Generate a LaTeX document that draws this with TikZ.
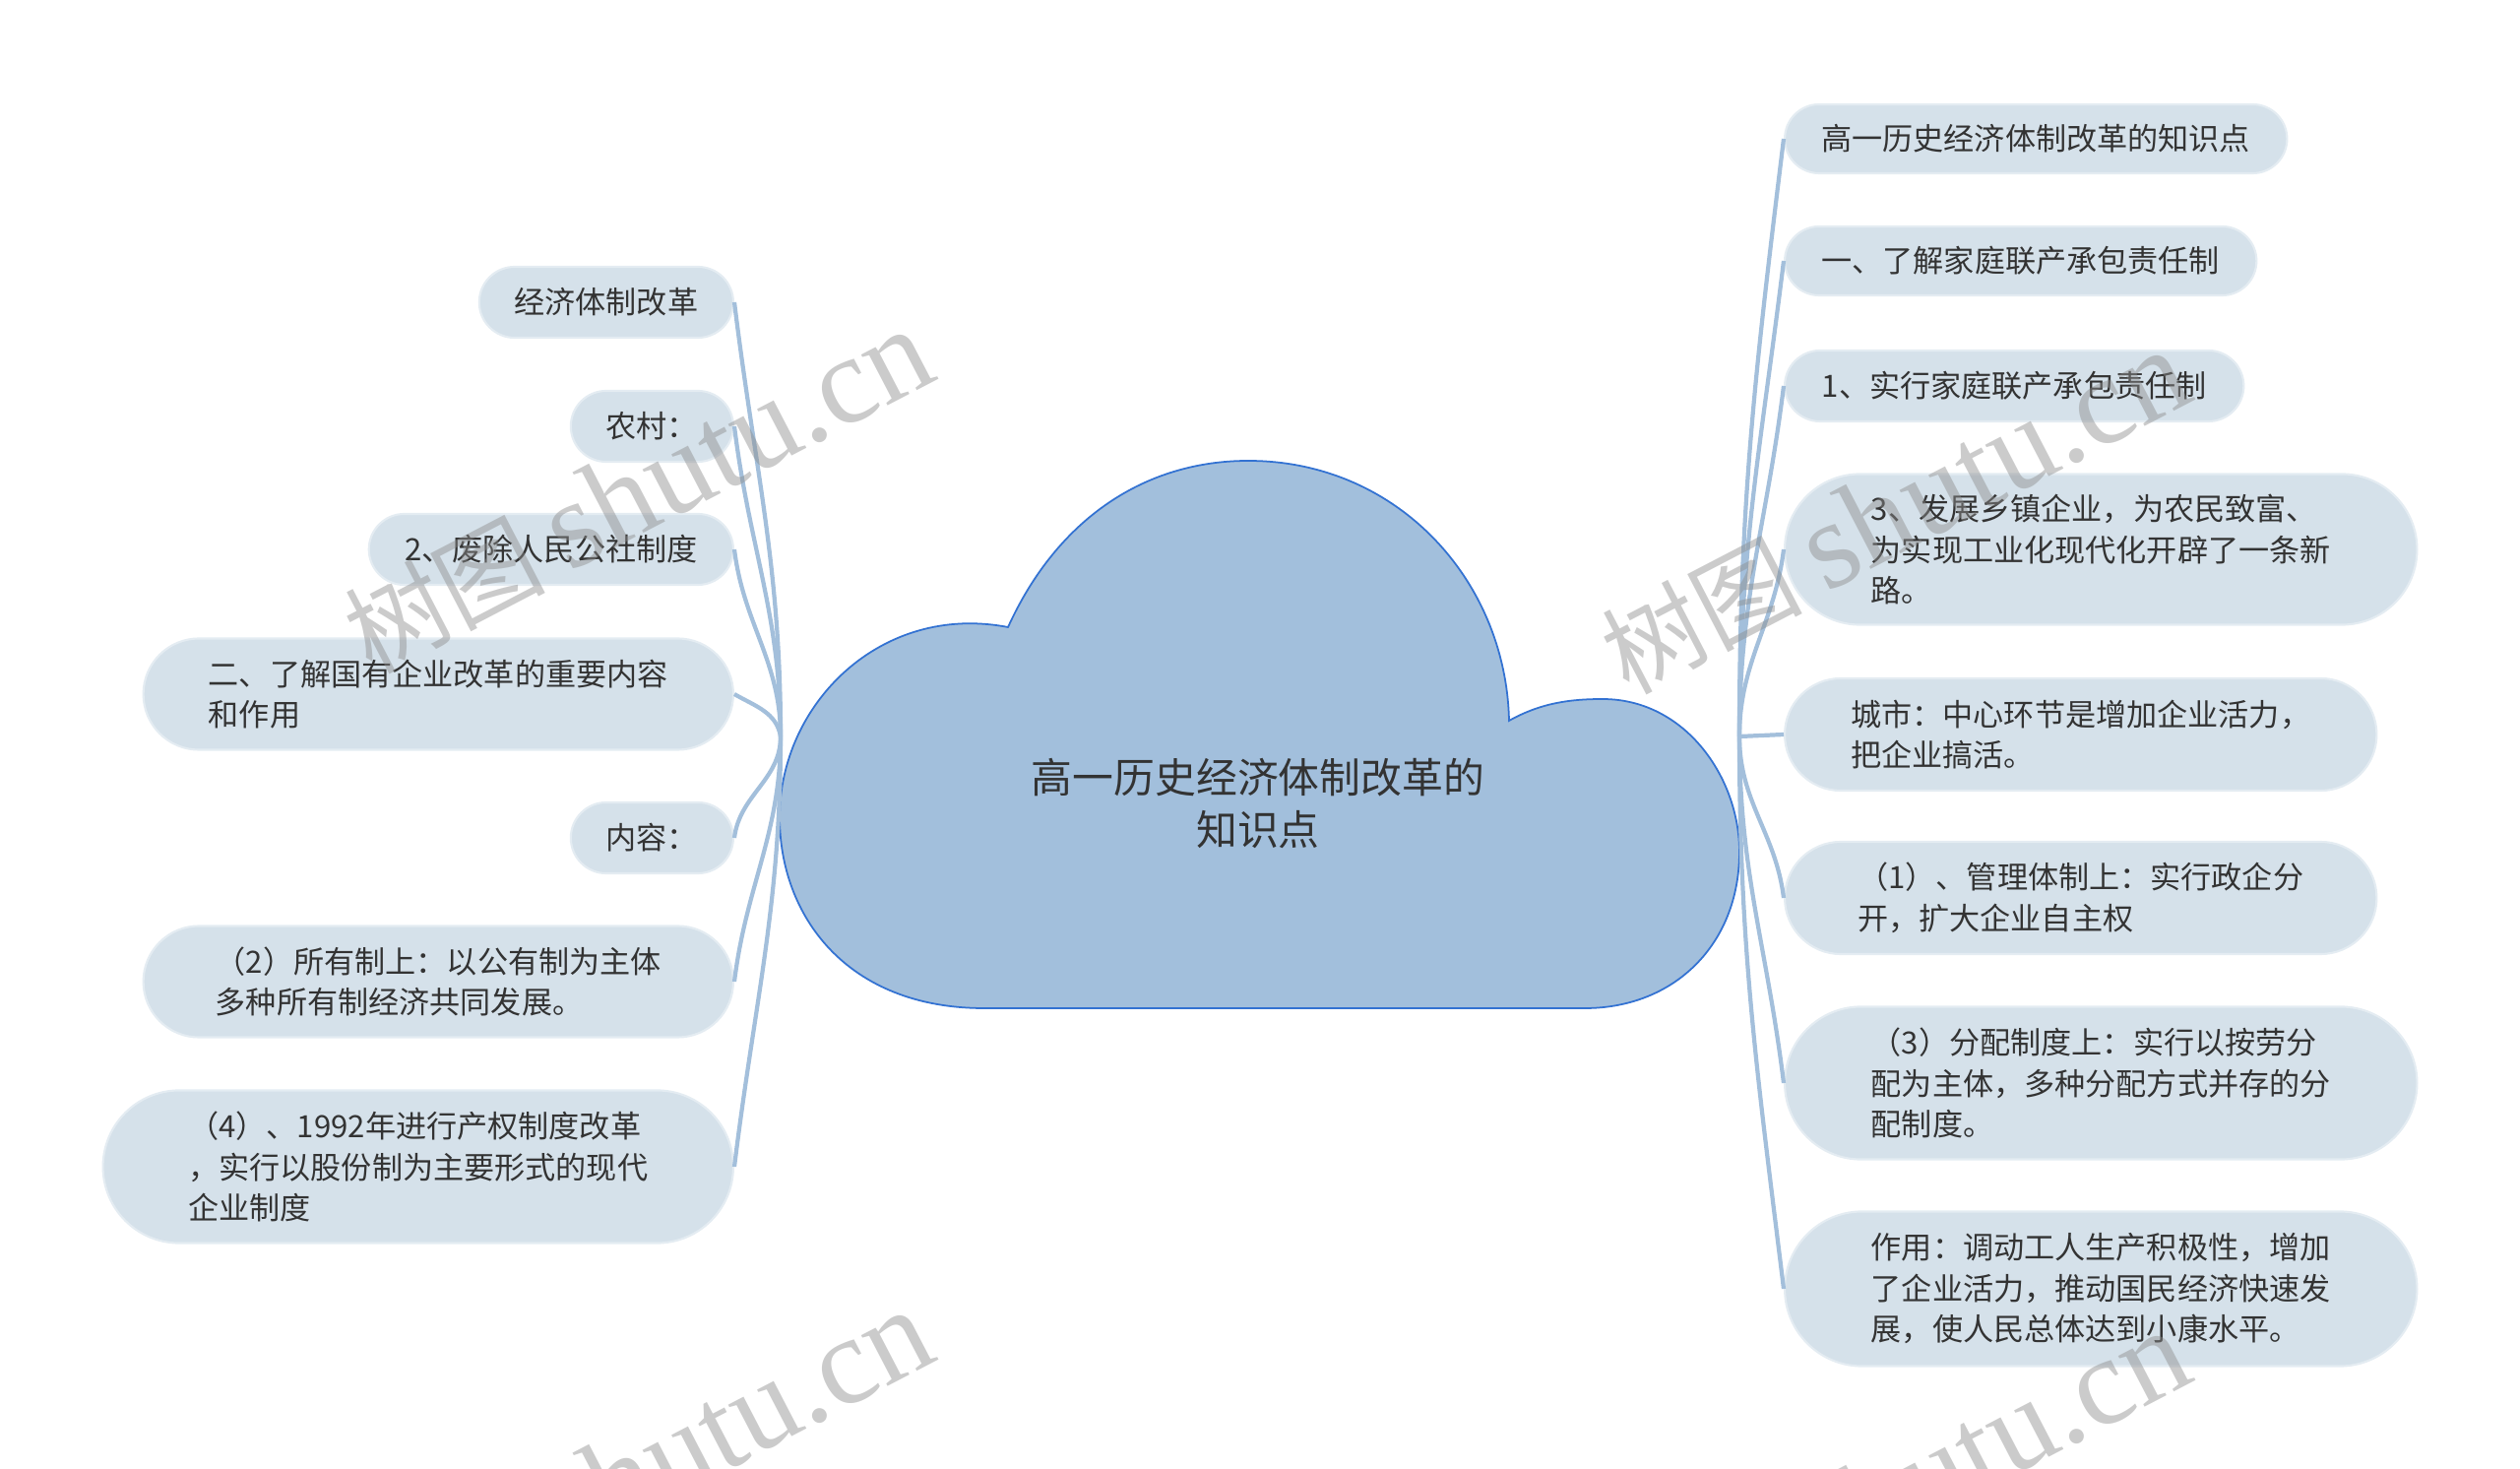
\documentclass[tikz,border=0pt]{standalone}
\usepackage{fontspec}
\setmainfont{Noto Sans CJK SC}
\newfontfamily\wmlatin{Liberation Serif}
\usetikzlibrary{shapes.misc, positioning}

\definecolor{topicfill}{HTML}{D5E1EA}
\definecolor{topicline}{HTML}{E4ECF2}
\definecolor{branchcol}{HTML}{A3BFDB}
\definecolor{cloudfill}{HTML}{A2BFDC}
\definecolor{cloudline}{HTML}{3372D2}
\definecolor{txtcol}{HTML}{333333}

\begin{document}
\begin{tikzpicture}[
        x=0.01cm, y=-0.01cm,
        topic/.style={rounded rectangle, draw=topicline, line width=0.6pt, fill=topicfill, inner sep=0pt, align=left, text=txtcol, font=\fontsize{8.85}{11.8}\selectfont},
        branch/.style={draw=branchcol, line width=1.2pt},
        cloudbody/.style={draw=cloudline, line width=0.5pt, fill=cloudfill},
        wmark/.style={text=black!45, opacity=0.45, rotate=27.5, font=\fontsize{29}{29}\selectfont}
    ]
        \useasboundingbox (0,0) rectangle (2560,1492);

        % central cloud
        \draw[cloudbody] (1000,1024)
            .. controls (860,1024) and (792,930) .. (792,830)
            .. controls (792,715) and (895,612) .. (1024,637)
            .. controls (1075,525) and (1165,468) .. (1268,468)
            .. controls (1420,468) and (1530,590) .. (1533,732)
            .. controls (1565,714) and (1595,710) .. (1628,710)
            .. controls (1712,710) and (1767,790) .. (1767,865)
            .. controls (1767,960) and (1700,1024) .. (1610,1024) -- cycle;
        \node[text=txtcol, align=center, font=\fontsize{11.9}{14.8}\selectfont] (root) at (1278,816) {高一历史经济体制改革的\\知识点};
        \coordinate (lhub) at (793,748);
        \coordinate (rhub) at (1767,748);

        % right side
        \node[topic, anchor=west, minimum width=5.10cm, minimum height=0.70cm] (r1) at (1812,141) {高一历史经济体制改革的知识点};
        \node[topic, anchor=west, minimum width=4.79cm, minimum height=0.70cm] (r2) at (1812,265) {一、了解家庭联产承包责任制};
        \node[topic, anchor=west, minimum width=4.66cm, minimum height=0.72cm] (r3) at (1812,392) {1、实行家庭联产承包责任制};
        \node[topic, anchor=west, minimum width=6.42cm, minimum height=1.53cm] (r4) at (1812,558) {3、发展乡镇企业，为农民致富、\\为实现工业化现代化开辟了一条新\\路。};
        \node[topic, anchor=west, minimum width=6.01cm, minimum height=1.14cm] (r5) at (1812,746) {城市：中心环节是增加企业活力，\\把企业搞活。};
        \node[topic, anchor=west, minimum width=6.01cm, minimum height=1.14cm] (r6) at (1812,912) {（1）、管理体制上：实行政企分\\开，扩大企业自主权};
        \node[topic, anchor=west, minimum width=6.42cm, minimum height=1.55cm] (r7) at (1812,1100) {（3）分配制度上：实行以按劳分\\配为主体，多种分配方式并存的分\\配制度。};
        \node[topic, anchor=west, minimum width=6.42cm, minimum height=1.57cm] (r8) at (1812,1309) {作用：调动工人生产积极性，增加\\了企业活力，推动国民经济快速发\\展，使人民总体达到小康水平。};

        % left side
        \node[topic, anchor=east, minimum width=2.58cm, minimum height=0.72cm] (l1) at (746,307) {经济体制改革};
        \node[topic, anchor=east, minimum width=1.65cm, minimum height=0.72cm] (l2) at (746,433) {农村：};
        \node[topic, anchor=east, minimum width=3.70cm, minimum height=0.72cm] (l3) at (746,558) {2、废除人民公社制度};
        \node[topic, anchor=east, minimum width=5.99cm, minimum height=1.13cm] (l4) at (746,705) {二、了解国有企业改革的重要内容\\和作用};
        \node[topic, anchor=east, minimum width=1.65cm, minimum height=0.72cm] (l5) at (746,851) {内容：};
        \node[topic, anchor=east, minimum width=5.99cm, minimum height=1.13cm] (l6) at (746,997) {（2）所有制上：以公有制为主体\\多种所有制经济共同发展。};
        \node[topic, anchor=east, minimum width=6.40cm, minimum height=1.55cm] (l7) at (746,1185) {（4）、1992年进行产权制度改革\\，实行以股份制为主要形式的现代\\企业制度};

        % connectors
        \foreach \n in {r1,r2,r3,r4}
            \draw[branch] (rhub) to[out=90, in=-97] (\n.west);
        \draw[branch] (rhub) -- (r5.west);
        \foreach \n in {r6,r7,r8}
            \draw[branch] (rhub) to[out=-90, in=97] (\n.west);
        \foreach \n in {l1,l2,l3}
            \draw[branch] (lhub) to[out=90, in=-83] (\n.east);
        \draw[branch] (lhub) to[out=100, in=-30] (l4.east);
        \foreach \n in {l5,l6,l7}
            \draw[branch] (lhub) to[out=-90, in=83] (\n.east);

        % watermarks
        \node[wmark] (wm1) at (648,500) {树图 {\wmlatin\fontsize{36}{36}\selectfont shutu.cn}};
        \node[wmark] (wm2) at (1925,521) {树图 {\wmlatin\fontsize{36}{36}\selectfont shutu.cn}};
        \node[wmark] (wm3) at (648,1496) {树图 {\wmlatin\fontsize{36}{36}\selectfont shutu.cn}};
        \node[wmark] (wm4) at (1925,1517) {树图 {\wmlatin\fontsize{36}{36}\selectfont shutu.cn}};
    \end{tikzpicture}
\end{document}
